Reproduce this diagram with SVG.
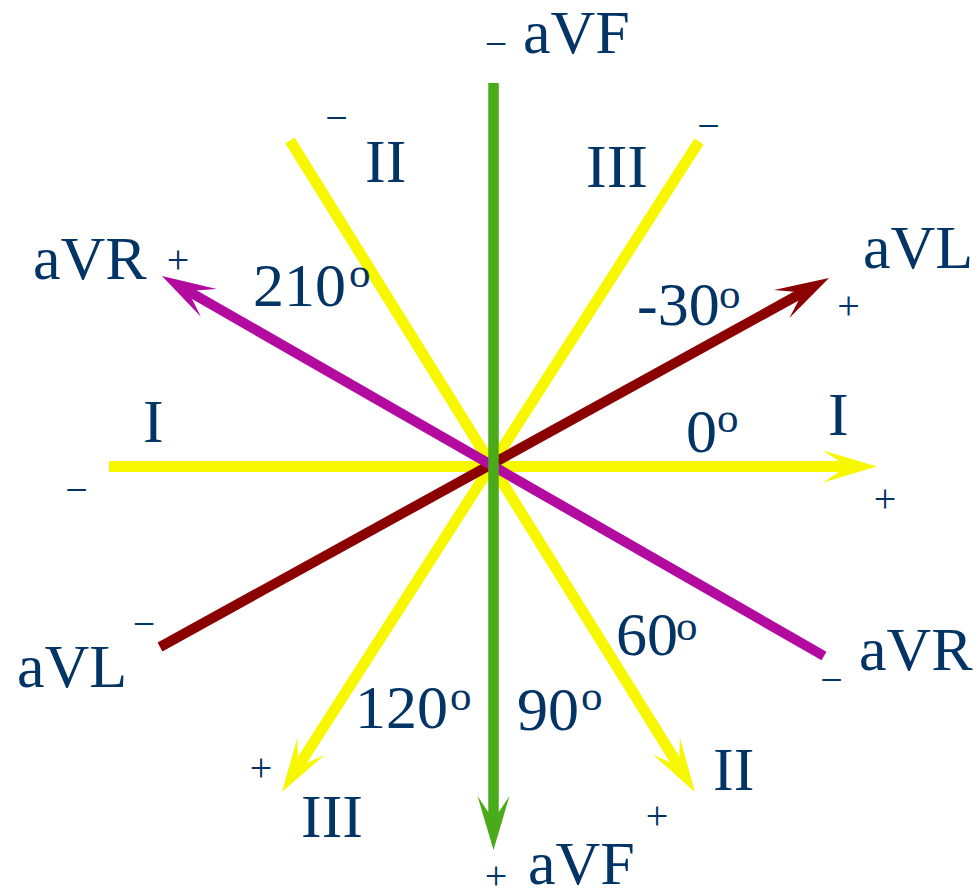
<svg xmlns="http://www.w3.org/2000/svg" width="978" height="890" viewBox="0 0 978 890">
<style>
.lbl{font-family:"Liberation Serif","Times New Roman",serif;font-size:62px;fill:#033466}
.sup{font-family:"Liberation Serif","Times New Roman",serif;font-size:43px;fill:#033466}
.sgn{font-family:"Liberation Serif","Times New Roman",serif;font-size:40px;fill:#033466;text-anchor:middle}
.ax{fill:none;stroke-linecap:butt}
</style>
<defs>
<marker id="mY" markerUnits="userSpaceOnUse" orient="auto" refX="0" refY="0" markerWidth="60" markerHeight="40" overflow="visible"><path d="M-24,-16 L30,0 L-24,16 L0,0 Z" fill="#f7f700"/></marker>
<marker id="mG" markerUnits="userSpaceOnUse" orient="auto" refX="0" refY="0" markerWidth="60" markerHeight="40" overflow="visible"><path d="M-24,-16 L30,0 L-24,16 L0,0 Z" fill="#4aab1a"/></marker>
<marker id="mM" markerUnits="userSpaceOnUse" orient="auto" refX="0" refY="0" markerWidth="60" markerHeight="40" overflow="visible"><path d="M-24,-16 L30,0 L-24,16 L0,0 Z" fill="#b30aa0"/></marker>
<marker id="mR" markerUnits="userSpaceOnUse" orient="auto" refX="0" refY="0" markerWidth="60" markerHeight="40" overflow="visible"><path d="M-24,-16 L30,0 L-24,16 L0,0 Z" fill="#8b0000"/></marker>
</defs>
<rect width="978" height="890" fill="#ffffff"/>
<g id="connectors">
<line id="lead-I" class="ax" x1="109" y1="466.5" x2="847" y2="466.5" stroke="#f7f700" stroke-width="11" marker-end="url(#mY)"/>
<line id="lead-II" class="ax" x1="290" y1="140.5" x2="679" y2="766.5" stroke="#f7f700" stroke-width="11" marker-end="url(#mY)"/>
<line id="lead-III" class="ax" x1="699" y1="141.5" x2="298" y2="766.7" stroke="#f7f700" stroke-width="11" marker-end="url(#mY)"/>
<line id="lead-aVL" class="ax" x1="160" y1="647" x2="802.7" y2="292.5" stroke="#8b0000" stroke-width="10" marker-end="url(#mR)"/>
<line id="lead-aVR" class="ax" x1="824" y1="656" x2="188" y2="291" stroke="#b30aa0" stroke-width="10" marker-end="url(#mM)"/>
<line id="lead-aVF" class="ax" x1="493.5" y1="83" x2="493.5" y2="820" stroke="#4aab1a" stroke-width="10.5" marker-end="url(#mG)"/>
</g>
<g id="label-aVF-neg"><text class="sgn" x="496" y="57">−</text><text class="lbl" x="523" y="53">aVF</text></g>
<g id="label-II-neg"><text class="sgn" x="336.5" y="131">−</text><text class="lbl" x="365" y="182">II</text></g>
<g id="label-III-neg"><text class="sgn" x="708.5" y="139">−</text><text class="lbl" x="586" y="187">III</text></g>
<g id="label-aVR-pos"><text class="lbl" x="33" y="279">aVR</text><text class="sgn" x="178" y="273">+</text></g>
<g id="label-210"><text class="lbl" x="253" y="306">210</text><text class="sup" x="349" y="287">o</text></g>
<g id="label-m30"><text class="lbl" x="637" y="325">-30</text><text class="sup" x="719" y="308">o</text></g>
<g id="label-aVL-pos"><text class="lbl" x="863" y="268">aVL</text><text class="sgn" x="848.5" y="319">+</text></g>
<g id="label-0"><text class="lbl" x="686" y="452">0</text><text class="sup" x="717" y="432">o</text></g>
<g id="label-I-pos"><text class="lbl" x="828" y="435">I</text><text class="sgn" x="885" y="512">+</text></g>
<g id="label-I-neg"><text class="lbl" x="143" y="442">I</text><text class="sgn" x="76.5" y="503">−</text></g>
<g id="label-aVL-neg"><text class="lbl" x="17" y="687">aVL</text><text class="sgn" x="144" y="637">−</text></g>
<g id="label-aVR-neg"><text class="lbl" x="859" y="670">aVR</text><text class="sgn" x="831.5" y="693">−</text></g>
<g id="label-60"><text class="lbl" x="616" y="655">60</text><text class="sup" x="676" y="640">o</text></g>
<g id="label-120"><text class="lbl" x="355" y="728">120</text><text class="sup" x="450" y="710">o</text></g>
<g id="label-90"><text class="lbl" x="517" y="730">90</text><text class="sup" x="581" y="710">o</text></g>
<g id="label-III-pos"><text class="sgn" x="261" y="781">+</text><text class="lbl" x="301" y="837">III</text></g>
<g id="label-II-pos"><text class="lbl" x="713" y="790">II</text><text class="sgn" x="657" y="829">+</text></g>
<g id="label-aVF-pos"><text class="sgn" x="496" y="889">+</text><text class="lbl" x="528" y="884">aVF</text></g>
</svg>
